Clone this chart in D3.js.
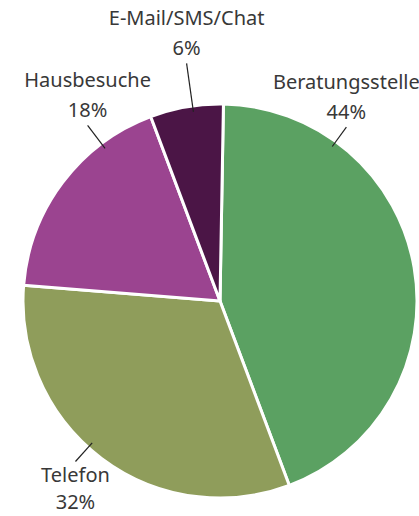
<!DOCTYPE html>
<html>
<head>
<meta charset="utf-8">
<script src="https://cdn.jsdelivr.net/npm/d3@7"></script>
<style>
  body { margin: 0; background: #fff; }
  text { font-family: "Noto Sans", sans-serif; fill: #383838; font-size: 20px; }
</style>
</head>
<body>
<div id="chart-area"></div>
<script>
const categories = ["Beratungsstelle", "Telefon", "Hausbesuche", "E-Mail/SMS/Chat"];
const shares = [44, 32, 18, 6];
const colors = ["#5ba162", "#8f9d5b", "#9b4490", "#4b1546"];

// where each leader line sits (degrees clockwise from 12 o'clock) and how far it reaches
const labelLayout = {
  "Beratungsstelle": { angle: 36, outer: 215, side: "above" },
  "Telefon": { angle: 222, outer: 216, side: "below" },
  "Hausbesuche": { angle: -37, outer: 220, side: "above" },
  "E-Mail/SMS/Chat": { angle: -8, outer: 240, side: "above" }
};

const width = 419;
const height = 516;
const cx = 220;
const cy = 301;
const radius = 197;

const data = categories.map((c, i) => ({ category: c, value: shares[i] }));

const svg = d3.select("#chart-area")
  .append("svg")
    .attr("width", width)
    .attr("height", height);

const g = svg.append("g")
  .attr("transform", `translate(${cx}, ${cy})`);

const color = d3.scaleOrdinal()
  .domain(categories)
  .range(colors);

const offset = 1 * Math.PI / 180;
const pie = d3.pie()
  .value(d => d.value)
  .sort(null)
  .startAngle(offset)
  .endAngle(2 * Math.PI + offset);

const arc = d3.arc()
  .innerRadius(0)
  .outerRadius(radius);

const arcs = pie(data);

g.selectAll("path.slice")
  .data(arcs)
  .enter()
  .append("path")
    .attr("class", "slice")
    .attr("d", arc)
    .attr("fill", d => color(d.data.category))
    .attr("stroke", "#fff")
    .attr("stroke-width", 3)
    .attr("stroke-linejoin", "round");

const polar = (deg, r) => {
  const a = deg * Math.PI / 180;
  return [r * Math.sin(a), -r * Math.cos(a)];
};

const labels = g.selectAll("g.label")
  .data(arcs)
  .enter()
  .append("g")
    .attr("class", "label");

labels.append("line")
  .attr("x1", d => polar(labelLayout[d.data.category].angle, radius - 6)[0])
  .attr("y1", d => polar(labelLayout[d.data.category].angle, radius - 6)[1])
  .attr("x2", d => polar(labelLayout[d.data.category].angle, labelLayout[d.data.category].outer)[0])
  .attr("y2", d => polar(labelLayout[d.data.category].angle, labelLayout[d.data.category].outer)[1])
  .attr("stroke", "#222")
  .attr("stroke-width", 1.2);

labels.each(function(d) {
  const lay = labelLayout[d.data.category];
  const [x, y] = polar(lay.angle, lay.outer);
  const t = d3.select(this).append("text")
    .attr("text-anchor", "middle");
  if (lay.side === "above") {
    t.append("tspan").attr("x", x).attr("y", y - 38).text(d.data.category);
    t.append("tspan").attr("x", x).attr("y", y - 8).text(d.data.value + "%");
  } else {
    t.append("tspan").attr("x", x).attr("y", y + 20).text(d.data.category);
    t.append("tspan").attr("x", x).attr("y", y + 47).text(d.data.value + "%");
  }
});
</script>
</body>
</html>
